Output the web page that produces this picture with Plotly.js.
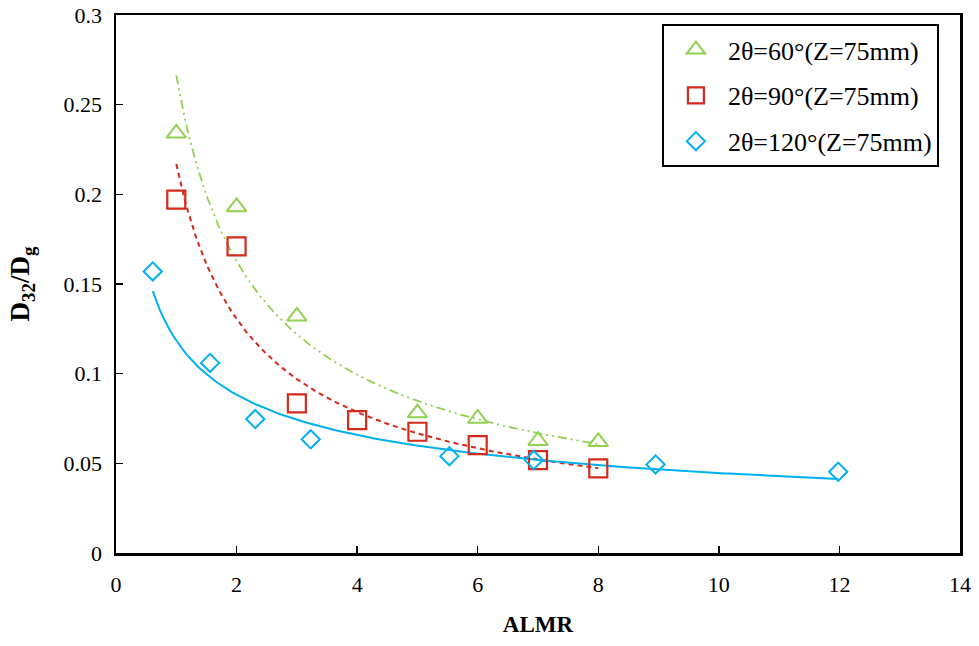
<!DOCTYPE html>
<html>
<head>
<meta charset="utf-8">
<script src="https://cdn.plot.ly/plotly-3.0.1.min.js"></script>
<style>html,body{margin:0;padding:0;background:#fff;}#chart{width:979px;height:646px;}</style>
</head>
<body>
<div id="chart"></div>
<script>
// ---- data ----
const seriesNames = ["2θ=60°(Z=75mm)", "2θ=90°(Z=75mm)", "2θ=120°(Z=75mm)"];
const x60 = [1, 2, 3, 5, 6, 7, 8];
const y60 = [0.234, 0.193, 0.132, 0.078, 0.075, 0.0626, 0.062];
const x90 = [1, 2, 3, 4, 5, 6, 7, 8];
const y90 = [0.197, 0.171, 0.0834, 0.0741, 0.0676, 0.0602, 0.0518, 0.0472];
const x120 = [0.61, 1.56, 2.31, 3.23, 5.53, 6.93, 8.95, 11.98];
const y120 = [0.157, 0.106, 0.0747, 0.0634, 0.054, 0.0518, 0.0494, 0.0453];
const xTickVals = [0, 2, 4, 6, 8, 10, 12, 14];
const yTickVals = [0, 0.05, 0.1, 0.15, 0.2, 0.25, 0.3];

// power trendline (least squares on ln-ln), as in the spreadsheet's trendline
function powerFit(xs, ys) {
  const lx = xs.map(Math.log), ly = ys.map(Math.log);
  const n = xs.length;
  const mx = lx.reduce((a, b) => a + b, 0) / n, my = ly.reduce((a, b) => a + b, 0) / n;
  let sxy = 0, sxx = 0;
  for (let i = 0; i < n; i++) { sxy += (lx[i] - mx) * (ly[i] - my); sxx += (lx[i] - mx) ** 2; }
  const b = sxy / sxx, a = Math.exp(my - b * mx);
  const x0 = Math.min(...xs), x1 = Math.max(...xs);
  const fx = [], fy = [];
  for (let i = 0; i <= 200; i++) { const x = x0 + (x1 - x0) * i / 200; fx.push(x); fy.push(a * Math.pow(x, b)); }
  return { x: fx, y: fy };
}

const cGreen = "#92D050", cRed = "#D42A1A", cBlue = "#00B0F0";
const f60 = powerFit(x60, y60), f90 = powerFit(x90, y90), f120 = powerFit(x120, y120);

const traces = [
  { x: f60.x, y: f60.y, mode: "lines", line: { color: cGreen, width: 1.8, dash: "9px,4px,2px,4px,2px,4px" }, showlegend: false, hoverinfo: "skip" },
  { x: f90.x, y: f90.y, mode: "lines", line: { color: cRed, width: 2, dash: "5px,4px" }, showlegend: false, hoverinfo: "skip" },
  { x: f120.x, y: f120.y, mode: "lines", line: { color: cBlue, width: 2 }, showlegend: false, hoverinfo: "skip" },
  { x: x60, y: y60, name: seriesNames[0], legendgroup: "a", mode: "markers", marker: { symbol: "triangle-up-open", size: 17, color: cGreen, line: { width: 2, color: cGreen } } },
  { x: x90, y: y90, name: seriesNames[1], legendgroup: "b", mode: "markers", marker: { symbol: "square-open", size: 18, color: cRed, line: { width: 2.2, color: cRed } } },
  { x: x120, y: y120, name: seriesNames[2], legendgroup: "c", mode: "markers", marker: { symbol: "diamond-open", size: 14, color: cBlue, line: { width: 2, color: cBlue } } }
];

const font = "Liberation Serif, Times New Roman, serif";
const layout = {
  width: 979, height: 646,
  margin: { l: 116, r: 19, t: 15, b: 93 },
  paper_bgcolor: "#fff", plot_bgcolor: "#fff",
  font: { family: font, color: "#000", size: 22 },
  showlegend: true,
  legend: {
    x: 0.975, y: 0.983, xanchor: "right", yanchor: "top",
    bordercolor: "#000", borderwidth: 2, bgcolor: "#fff",
    font: { family: font, size: 26, color: "#000" },
    traceorder: "grouped", tracegroupgap: 9,
    itemwidth: 54
  },
  xaxis: {
    range: [0, 14], tickvals: xTickVals, ticktext: xTickVals.map(String),
    ticks: "inside", ticklen: 7, tickwidth: 1.5, tickcolor: "#000",
    showline: true, linecolor: "#000", linewidth: 2.5, mirror: true,
    showgrid: false, zeroline: false, ticklabelstandoff: 10,
    tickfont: { family: font, size: 22 },
    title: { text: "<b>ALMR</b>", font: { family: font, size: 23 }, standoff: 20 }
  },
  yaxis: {
    range: [0, 0.3], tickvals: yTickVals, ticktext: yTickVals.map(String),
    ticks: "inside", ticklen: 7, tickwidth: 1.5, tickcolor: "#000",
    showline: true, linecolor: "#000", linewidth: 2.5, mirror: true,
    showgrid: false, zeroline: false, ticklabelstandoff: 7,
    tickfont: { family: font, size: 22 },
    title: { text: "<b>D<sub>32</sub>/D<sub>g</sub></b>", font: { family: font, size: 27 }, standoff: 26 }
  }
};

Plotly.newPlot("chart", traces, layout, { displayModeBar: false, staticPlot: true });
</script>
</body>
</html>
